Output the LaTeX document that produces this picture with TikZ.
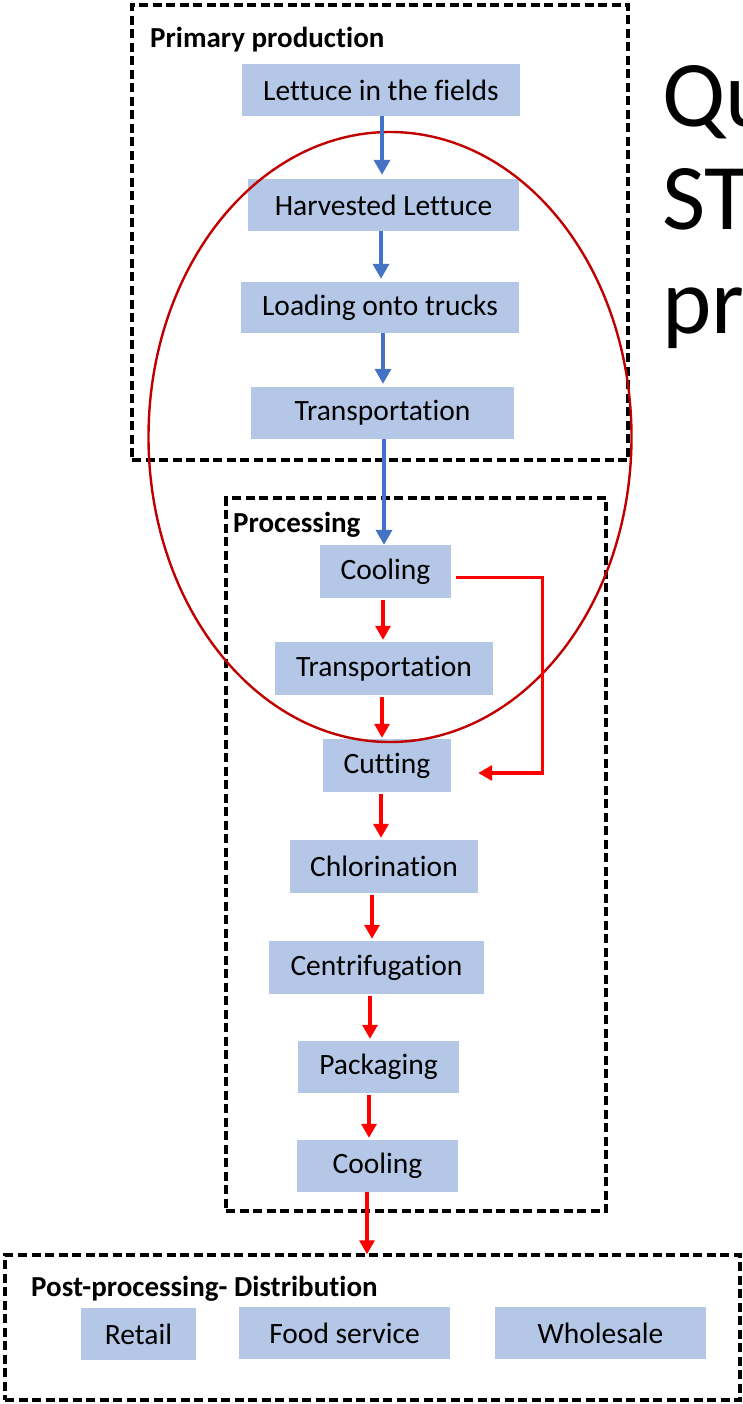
\documentclass[tikz,border=0pt]{standalone}
\usepackage{fontspec}
\setmainfont{Carlito}[Ligatures=NoCommon]
\usetikzlibrary{arrows.meta}
\definecolor{boxfill}{HTML}{B4C7E7}
\definecolor{bluearrow}{HTML}{4472C4}
\definecolor{ellred}{HTML}{C00000}
\tikzset{
  stepbox/.style={fill=boxfill, draw=none, inner sep=0pt, font=\fontsize{29.5}{32}\selectfont},
  grouplabel/.style={anchor=base west, inner sep=0pt, font=\fontsize{29}{32}\selectfont\bfseries},
  groupframe/.style={draw=black, line width=3.5pt, dash pattern=on 9pt off 4.5pt},
  bluearr/.style={draw=bluearrow, line width=3.6pt, -{Triangle[length=15pt,width=16pt]}},
  redarr/.style={draw=red, line width=3.3pt, -{Triangle[length=14pt,width=15pt]}},
  bigtext/.style={anchor=base west, inner sep=0pt, font=\fontsize{94}{100}\selectfont}
}
\begin{document}
\begin{tikzpicture}[x=1pt,y=-1pt]
\useasboundingbox (0,0) rectangle (743,1404);
\clip (0,0) rectangle (743,1404);
\fill[white] (0,0) rectangle (743,1404);

% group frames
\node[groupframe, minimum width=496pt, minimum height=455pt, inner sep=0pt] (primary) at (380,232.5) {};
\node[groupframe, minimum width=380pt, minimum height=713pt, inner sep=0pt] (processing) at (416,854.5) {};
\node[groupframe, minimum width=735pt, minimum height=145pt, inner sep=0pt] (post) at (372.5,1327.5) {};

\node[grouplabel] (lprimary) at (150,48) {Primary production};
\node[grouplabel] (lprocessing) at (233,532) {Processing};
\node[grouplabel] (lpost) at (31,1296) {Post-processing- Distribution};

% steps
\node[stepbox, minimum width=278pt, minimum height=52pt] (lf) at (381,90) {Lettuce in the fields};
\node[stepbox, minimum width=271pt, minimum height=52pt] (hl) at (383.5,205) {Harvested Lettuce};
\node[stepbox, minimum width=278pt, minimum height=51pt] (lt) at (380,307.5) {Loading onto trucks};
\node[stepbox, minimum width=263pt, minimum height=52pt] (tr1) at (382.5,413) {Transportation};
\node[stepbox, minimum width=131pt, minimum height=53pt] (cool1) at (385.5,571.5) {Cooling};
\node[stepbox, minimum width=218pt, minimum height=53pt] (tr2) at (384,668.5) {Transportation};
\node[stepbox, minimum width=128pt, minimum height=53pt] (cut) at (387,765.5) {Cutting};
\node[stepbox, minimum width=188pt, minimum height=53pt] (chl) at (384,866.5) {Chlorination};
\node[stepbox, minimum width=215pt, minimum height=53pt] (cen) at (376.5,967.5) {Centrifugation};
\node[stepbox, minimum width=161pt, minimum height=52pt] (pack) at (378.5,1067) {Packaging};
\node[stepbox, minimum width=161pt, minimum height=52pt] (cool2) at (377.5,1166) {Cooling};
\node[stepbox, minimum width=115pt, minimum height=52pt] (retail) at (138.5,1334) {Retail};
\node[stepbox, minimum width=211pt, minimum height=52pt] (food) at (344.5,1333) {Food service};
\node[stepbox, minimum width=211pt, minimum height=52pt] (whole) at (600.5,1333) {Wholesale};

% ellipse highlight
\draw[ellred, line width=2.4pt] (390,437) ellipse [x radius=241.5pt, y radius=305pt];

% blue arrows
\draw[bluearr] (lf.south -| 382,0) -- ([yshift=4pt]hl.north -| 382,0);
\draw[bluearr] (hl.south -| 381,0) -- ([yshift=3pt]lt.north -| 381,0);
\draw[bluearr] (lt.south -| 383,0) -- ([yshift=3pt]tr1.north -| 383,0);
\draw[bluearr] (tr1.south -| 384,0) -- (cool1.north -| 384,0);

% red arrows
\draw[redarr] ([yshift=-2pt]cool1.south -| 383,0) -- ([yshift=2pt]tr2.north -| 383,0);
\draw[redarr] ([yshift=-2pt]tr2.south -| 382,0) -- ([yshift=1pt]cut.north -| 382,0);
\draw[redarr] ([yshift=-2pt]cut.south -| 381,0) -- ([yshift=2pt]chl.north -| 381,0);
\draw[redarr] ([yshift=-2pt]chl.south -| 372,0) -- ([yshift=2pt]cen.north -| 372,0);
\draw[redarr] ([yshift=-2pt]cen.south -| 370,0) -- ([yshift=2pt]pack.north -| 370,0);
\draw[redarr] ([yshift=-2pt]pack.south -| 369,0) -- ([yshift=2pt]cool2.north -| 369,0);
\draw[redarr] (cool2.south -| 367,0) -- ([yshift=-1pt]post.north -| 367,0);
\draw[redarr] ([xshift=5pt,yshift=-6pt]cool1.east) -| ([xshift=91pt,yshift=-7.5pt]cut.east) -- ([xshift=27pt,yshift=-7.5pt]cut.east);

% large partial title text at right edge
\node[bigtext] (t1) at (662,127) {Qu};
\node[bigtext] (t2) at (662,230) {ST};
\node[bigtext] (t3) at (662,333) {pr};
\end{tikzpicture}
\end{document}
